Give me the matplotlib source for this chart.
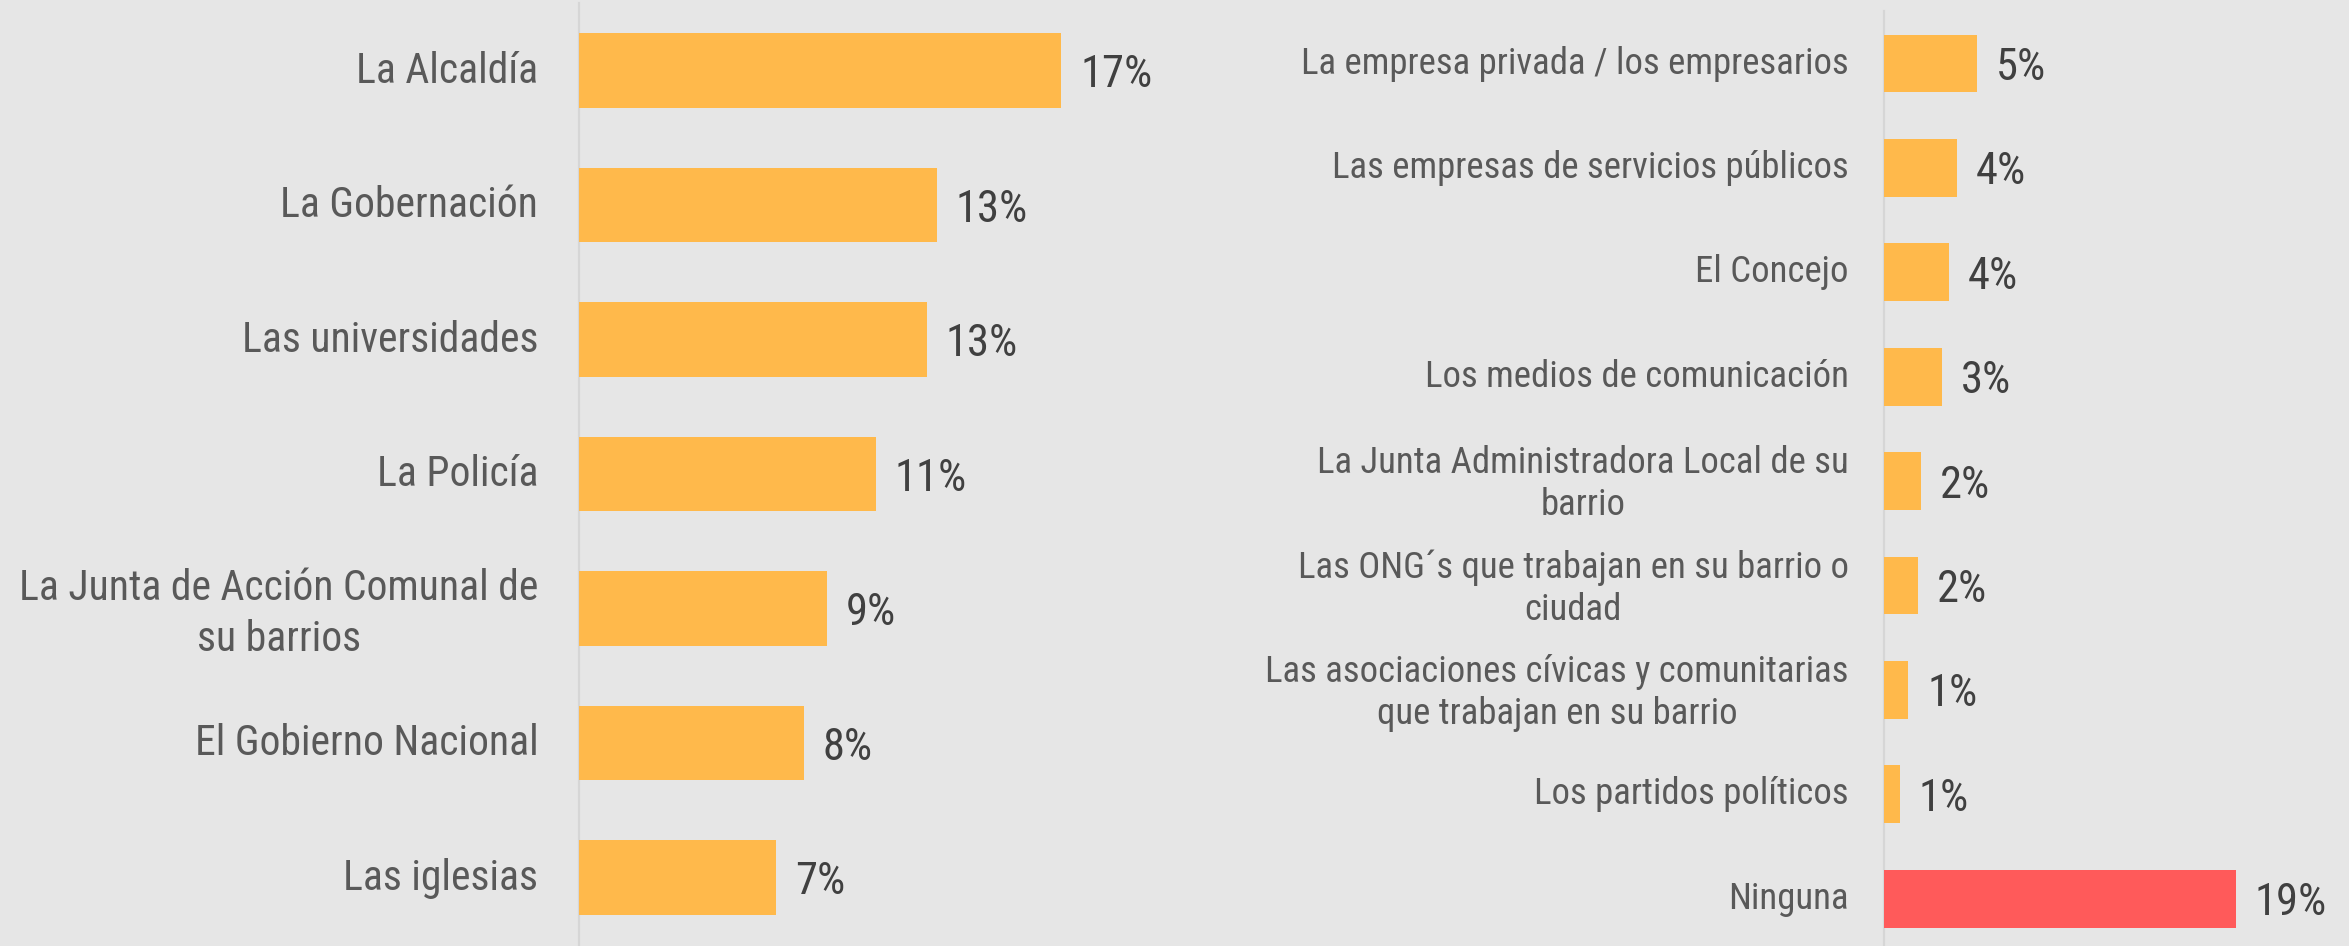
import numpy as np
import matplotlib
matplotlib.use("Agg")
import matplotlib.pyplot as plt
import matplotlib.transforms as mtransforms
from matplotlib import font_manager

left_labels = ["La Alcaldía", "La Gobernación", "Las universidades", "La Policía",
               "La Junta de Acción Comunal de\nsu barrios", "El Gobierno Nacional",
               "Las iglesias"]
left_values = [17.0, 12.61, 12.25, 10.45, 8.74, 7.93, 6.95]
left_text = ["17%", "13%", "13%", "11%", "9%", "8%", "7%"]

right_labels = ["La empresa privada / los empresarios", "Las empresas de servicios públicos",
                "El Concejo", "Los medios de comunicación",
                "La Junta Administradora Local de su\nbarrio",
                "Las ONG´s que trabajan en su barrio o\nciudad",
                "Las asociaciones cívicas y comunitarias\nque trabajan en su barrio",
                "Los partidos políticos", "Ninguna"]
right_values = [5.02, 3.94, 3.53, 3.13, 1.99, 1.83, 1.31, 0.85, 19.0]
right_text = ["5%", "4%", "4%", "3%", "2%", "2%", "1%", "1%", "19%"]
right_colors = ["#FFB94B"] * 8 + ["#FF5A5A"]

BG = "#E6E6E6"

# look for a narrow font, the original uses a condensed sans
fonts = font_manager.fontManager.ttflist
names = {f.name for f in fonts}
family, stretch, scale = "DejaVu Sans", "normal", 0.78
for n in ["Roboto Condensed", "Liberation Sans Narrow", "Arial Narrow", "Open Sans Condensed"]:
    if n in names:
        family, stretch, scale = n, "normal", 1.0
        break
else:
    for n in ["Roboto", "Noto Sans", "Open Sans", "DejaVu Sans"]:
        if any(f.name == n and str(f.stretch) in ("condensed", "semi-condensed", "500", "600")
               for f in fonts):
            family, stretch, scale = n, "condensed", 1.0
            break
plt.rcParams['font.family'] = [family, 'DejaVu Sans']
plt.rcParams['font.stretch'] = stretch

W, H = 2349, 946
fig = plt.figure(figsize=(W / 100, H / 100), dpi=100, facecolor=BG)


def panel(rect, labels, values, texts, colors, label_size, pad, linesp):
    ax = fig.add_axes(rect)
    ax.set_facecolor(BG)
    y = np.arange(len(values))
    ax.barh(y, values, height=0.553, color=colors, zorder=3)
    ax.set_ylim(len(values) - 0.5, -0.5)
    ax.set_xlim(0, 20)
    ax.set_yticks(y)
    ax.set_yticklabels(labels, fontsize=label_size * scale, color="#595959",
                       multialignment="center", linespacing=linesp)
    ax.tick_params(axis="y", length=0, pad=pad)
    # nudge the labels up a few pixels
    up = mtransforms.ScaledTranslation(0, 0.04, fig.dpi_scale_trans)
    for lab in ax.get_yticklabels():
        lab.set_transform(lab.get_transform() + up)
    ax.set_xticks([])
    for s in ["top", "right", "bottom"]:
        ax.spines[s].set_visible(False)
    ax.spines["left"].set_color("#D6D6D6")
    ax.spines["left"].set_linewidth(1.6)
    ax.spines["left"].set_zorder(2)
    for yi, v, t in zip(y, values, texts):
        ax.annotate(t, (v, yi), xytext=(13.5, 0), textcoords="offset points",
                    ha="left", va="center_baseline", fontsize=32 * scale, color="#404040")
    return ax


panel([579.3 / W, 1 - 944.75 / H, 20 * 28.35 / W, 941.5 / H],
      left_labels, left_values, left_text, "#FFB94B", 30, 29.5, 1.3)
panel([1884 / W, 1 - 950.9 / H, 20 * 18.53 / W, 939.6 / H],
      right_labels, right_values, right_text, right_colors, 26.5, 25.5, 1.22)

fig.savefig("out.png", dpi=100, facecolor=BG)
